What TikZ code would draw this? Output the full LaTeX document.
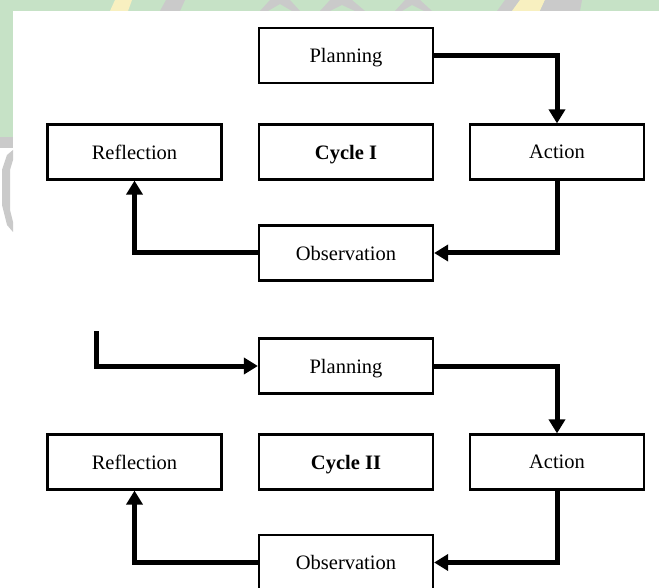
\documentclass[tikz,border=0pt]{standalone}
\usepackage{fontspec}
\setmainfont{Liberation Serif}
\usetikzlibrary{arrows.meta}
\definecolor{bggreen}{HTML}{C6E2C6}
\definecolor{wmgray}{HTML}{CACACA}
\definecolor{wmyellow}{HTML}{F8F0C0}
\begin{document}
\begin{tikzpicture}[x=1pt,y=-1pt,
  box/.style={draw, line width=2.2pt, minimum width=174pt, minimum height=55pt, inner sep=0pt,
    text depth=0pt, font=\fontsize{20.5}{24}\selectfont},
  flow/.style={line width=5pt, miter limit=4, -{Triangle[width=16pt,length=14pt]}}]
\useasboundingbox (0,0) rectangle (659,588);
\clip (0,0) rectangle (659,588);
\fill[white] (0,0) rectangle (659,588);
% background strips
\fill[bggreen] (0,0) rectangle (659,11);
\fill[bggreen] (0,0) rectangle (13,137);
\fill[wmgray] (0,137) rectangle (13,148);
\fill[wmgray] (13,150) -- (7,155) -- (2,170) -- (2,205) -- (7,225) -- (13,232) -- (13,222) -- (10,210) -- (10,170) -- (13,160) -- cycle;
\fill[wmgray] (260,11) -- (270,0) -- (290,0) -- (300,11) -- (292,11) -- (280,4) -- (268,11) -- cycle;
\fill[wmgray] (320,11) -- (330,0) -- (352,0) -- (365,11) -- (355,11) -- (342,5) -- (330,11) -- cycle;
\fill[wmgray] (395,11) -- (405,0) -- (420,0) -- (432,11) -- (424,11) -- (412,5) -- (402,11) -- cycle;
\fill[wmgray] (497,11) -- (505,0) -- (520,0) -- (512,11) -- cycle;
\fill[wmyellow] (512,11) -- (520,0) -- (545,0) -- (540,11) -- cycle;
\fill[wmgray] (540,11) -- (545,0) -- (582,0) -- (580,11) -- cycle;
\fill[wmyellow] (110,11) -- (115,0) -- (132,0) -- (128,11) -- cycle;
\fill[wmgray] (160,11) -- (166,0) -- (185,0) -- (180,11) -- cycle;
% Cycle I
\node[box] (P1) at (346,55.5) {Planning};
\node[box] (R1) at (134.5,152) {Reflection};
\node[box] (C1) at (346,152) {\textbf{Cycle I}};
\node[box] (A1) at (557,152) {Action};
\node[box] (O1) at (346,253) {Observation};
\draw[flow] (P1.east) -| (A1.north);
\draw[flow] (A1.south) |- (O1.east);
\draw[flow] (O1.west) -| (R1.south);
% Cycle II
\coordinate (S2) at (96,331);
\node[box] (P2) at (346,366) {Planning};
\node[box] (R2) at (134.5,462) {Reflection};
\node[box] (C2) at (346,462) {\textbf{Cycle II}};
\node[box] (A2) at (557,462) {Action};
\node[box] (O2) at (346,562.5) {Observation};
\draw[flow] (S2) |- (P2.west);
\draw[flow] (P2.east) -| (A2.north);
\draw[flow] (A2.south) |- (O2.east);
\draw[flow] (O2.west) -| (R2.south);
\end{tikzpicture}
\end{document}
